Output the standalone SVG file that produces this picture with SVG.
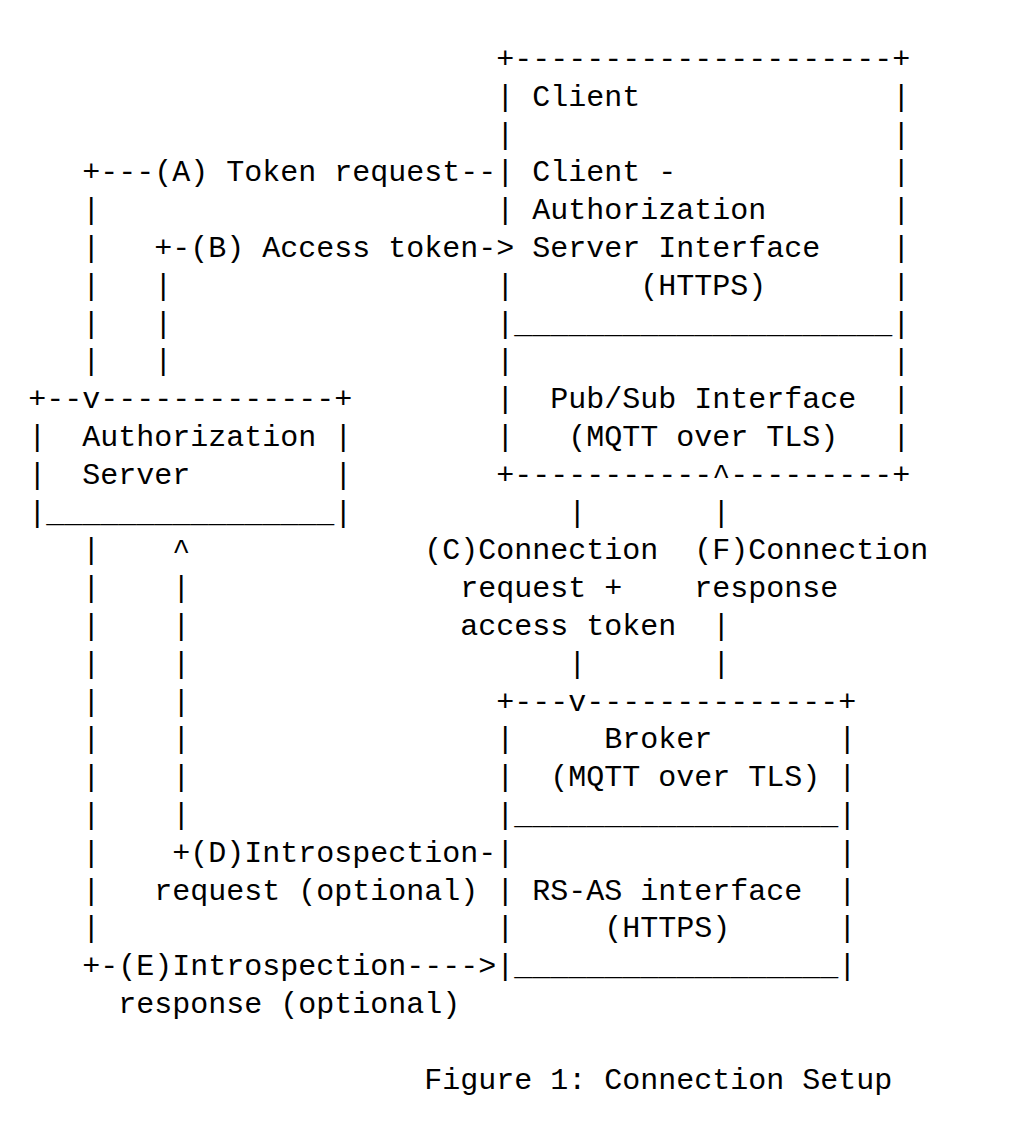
<svg xmlns="http://www.w3.org/2000/svg" width="1032" height="1134" viewBox="0 0 1032 1134" xml:space="preserve">
<style>
text { font-family: "Liberation Mono", "DejaVu Sans Mono", monospace; font-size: 30px; fill: #000; }
</style>
<rect width="1032" height="1134" fill="#fff"/>
<g id="client">
<text x="496.3" y="68">+---------------------+</text>
<text x="496.3" y="105.8">|</text><text x="532.3" y="105.8">Client</text><text x="892.3" y="105.8">|</text>
<text x="496.3" y="143.6">|</text><text x="892.3" y="143.6">|</text>
<text x="496.3" y="181.4">|</text><text x="532.3" y="181.4">Client -</text><text x="892.3" y="181.4">|</text>
<text x="496.3" y="219.2">|</text><text x="532.3" y="219.2">Authorization</text><text x="892.3" y="219.2">|</text>
<text x="532.3" y="257">Server Interface</text><text x="892.3" y="257">|</text>
<text x="496.3" y="294.8">|</text><text x="640.3" y="294.8">(HTTPS)</text><text x="892.3" y="294.8">|</text>
<text x="496.3" y="332.6">|_____________________|</text>
<text x="496.3" y="370.4">|</text><text x="892.3" y="370.4">|</text>
<text x="496.3" y="408.2">|</text><text x="550.3" y="408.2">Pub/Sub Interface</text><text x="892.3" y="408.2">|</text>
<text x="496.3" y="446">|</text><text x="568.3" y="446">(MQTT over TLS)</text><text x="892.3" y="446">|</text>
<text x="496.3" y="483.8">+-----------</text><text x="730.3" y="483.8">---------+</text>
</g>
<g id="as">
<text x="28.3" y="408.2">+--</text><text x="100.3" y="408.2">-------------+</text>
<text x="28.3" y="446">|</text><text x="82.3" y="446">Authorization</text><text x="334.3" y="446">|</text>
<text x="28.3" y="483.8">|</text><text x="82.3" y="483.8">Server</text><text x="334.3" y="483.8">|</text>
<text x="28.3" y="521.6">|________________|</text>
</g>
<g id="broker">
<text x="496.3" y="710.6">+---</text><text x="586.3" y="710.6">--------------+</text>
<text x="496.3" y="748.4">|</text><text x="604.3" y="748.4">Broker</text><text x="838.3" y="748.4">|</text>
<text x="496.3" y="786.2">|</text><text x="550.3" y="786.2">(MQTT over TLS)</text><text x="838.3" y="786.2">|</text>
<text x="496.3" y="824">|__________________|</text>
<text x="496.3" y="861.8">|</text><text x="838.3" y="861.8">|</text>
<text x="496.3" y="899.6">|</text><text x="532.3" y="899.6">RS-AS interface</text><text x="838.3" y="899.6">|</text>
<text x="496.3" y="937.4">|</text><text x="604.3" y="937.4">(HTTPS)</text><text x="838.3" y="937.4">|</text>
<text x="496.3" y="975.2">|__________________|</text>
</g>
<g id="connectors">
<text x="82.3" y="181.4">+---(A) Token request--</text>
<text x="82.3" y="219.2">|</text><text x="82.3" y="257">|</text><text x="82.3" y="294.8">|</text><text x="82.3" y="332.6">|</text><text x="82.3" y="370.4">|</text>
<text x="82.3" y="408.2">v</text>
<text x="154.3" y="257">+-(B) Access token-&gt;</text>
<text x="154.3" y="294.8">|</text><text x="154.3" y="332.6">|</text><text x="154.3" y="370.4">|</text>
<text x="568.3" y="521.6">|</text><text x="568.3" y="672.8">|</text><text x="568.3" y="710.6">v</text>
<text x="424.3" y="559.4">(C)Connection</text>
<text x="460.3" y="597.2">request +</text>
<text x="460.3" y="635">access token</text>
<text x="712.3" y="483.8">^</text>
<text x="712.3" y="521.6">|</text><text x="712.3" y="635">|</text><text x="712.3" y="672.8">|</text>
<text x="694.3" y="559.4">(F)Connection</text>
<text x="694.3" y="597.2">response</text>
<text x="172.3" y="559.4">^</text>
<text x="172.3" y="597.2">|</text><text x="172.3" y="635">|</text><text x="172.3" y="672.8">|</text><text x="172.3" y="710.6">|</text><text x="172.3" y="748.4">|</text><text x="172.3" y="786.2">|</text><text x="172.3" y="824">|</text>
<text x="172.3" y="861.8">+(D)Introspection-</text>
<text x="154.3" y="899.6">request (optional)</text>
<text x="82.3" y="559.4">|</text><text x="82.3" y="597.2">|</text><text x="82.3" y="635">|</text><text x="82.3" y="672.8">|</text><text x="82.3" y="710.6">|</text><text x="82.3" y="748.4">|</text><text x="82.3" y="786.2">|</text><text x="82.3" y="824">|</text><text x="82.3" y="861.8">|</text><text x="82.3" y="899.6">|</text><text x="82.3" y="937.4">|</text>
<text x="82.3" y="975.2">+-(E)Introspection----&gt;</text>
<text x="118.3" y="1013">response (optional)</text>
</g>
<text id="caption" x="424.3" y="1088.6">Figure 1: Connection Setup</text>
</svg>
